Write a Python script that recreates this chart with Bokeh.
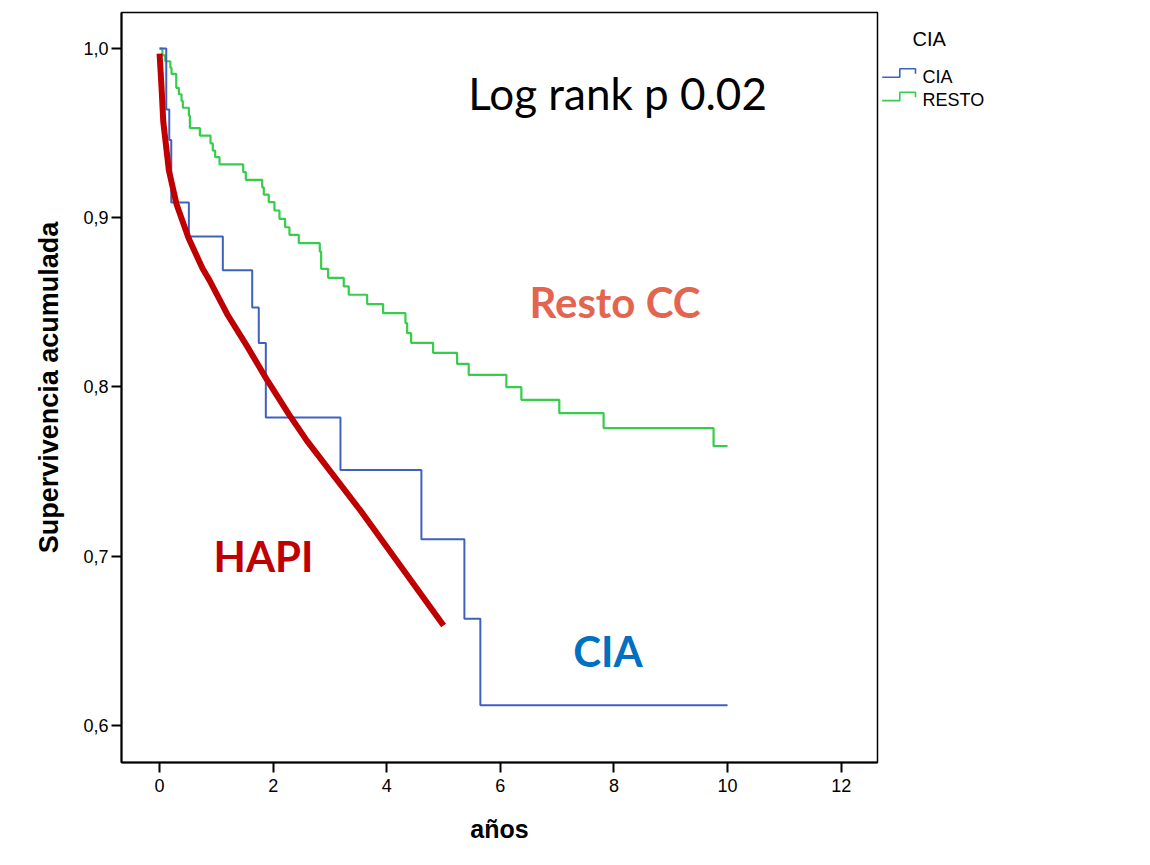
from bokeh.plotting import figure
from bokeh.layouts import row
from bokeh.models import Range1d, FixedTicker, Label
from bokeh.core.properties import value
from bokeh.embed import file_html
from bokeh.resources import INLINE

# ---------------- data ----------------
x_ticks = [0, 2, 4, 6, 8, 10, 12]
y_ticks = [0.6, 0.7, 0.8, 0.9, 1.0]
y_tick_labels = ["0,6", "0,7", "0,8", "0,9", "1,0"]

cia_time = [0.0, 0.118, 0.171, 0.206, 0.516, 1.114, 1.631, 1.747, 1.871,
            3.185, 4.610, 5.367, 5.648, 10.0]
cia_surv = [1.0, 0.964, 0.946, 0.909, 0.889, 0.869, 0.847, 0.826, 0.782,
            0.751, 0.710, 0.663, 0.612, 0.612]

resto_time = [0.0, 0.05, 0.10, 0.19, 0.211, 0.294, 0.34, 0.387, 0.41, 0.516,
              0.534, 0.71, 0.897, 0.937, 0.979, 1.056, 1.473, 1.519, 1.807,
              1.835, 1.923, 2.023, 2.111, 2.211, 2.287, 2.451, 2.821, 2.845,
              2.968, 3.243, 3.331, 3.655, 3.936, 4.329, 4.359, 4.429, 4.816,
              5.238, 5.443, 6.106, 6.370, 7.038, 7.818, 9.754, 10.0]
resto_surv = [1.0, 0.996, 0.9925, 0.9886, 0.985, 0.9768, 0.973, 0.969, 0.965,
              0.9604, 0.953, 0.9486, 0.944, 0.9397, 0.9358, 0.9315, 0.927,
              0.9224, 0.918, 0.9137, 0.9092, 0.9043, 0.8994, 0.8944, 0.8899,
              0.885, 0.880, 0.8698, 0.8645, 0.8594, 0.8545, 0.849, 0.8436,
              0.8377, 0.8318, 0.8261, 0.8202, 0.8137, 0.8072, 0.7999, 0.7924,
              0.7845, 0.7757, 0.765, 0.765]

hapi_x = [0.0, 0.035, 0.065, 0.164, 0.299, 0.510, 0.757, 0.880, 1.191,
          1.543, 1.895, 2.275, 2.599, 3.537, 5.0]
hapi_y = [0.997, 0.977, 0.957, 0.928, 0.908, 0.888, 0.870, 0.863, 0.843,
          0.824, 0.804, 0.784, 0.768, 0.727, 0.659]

legend_title = "CIA"
legend_labels = ["CIA", "RESTO"]

BLUE = "#4060C0"
GREEN = "#38CC4C"
RED = "#C00000"

# ---------------- main plot ----------------
p = figure(frame_width=756, frame_height=750,
           x_range=Range1d(-0.67, 12.64), y_range=Range1d(0.5781, 1.0213),
           output_backend="svg", toolbar_location=None,
           min_border_left=121, min_border_right=2, min_border_top=12,
           min_border_bottom=95, background_fill_color="white")
p.xgrid.visible = False
p.ygrid.visible = False
p.outline_line_color = "black"
p.outline_line_width = 1.5

p.xaxis.ticker = FixedTicker(ticks=x_ticks)
p.yaxis.ticker = FixedTicker(ticks=y_ticks)
p.yaxis.major_label_overrides = {t: l for t, l in zip(y_ticks, y_tick_labels)}

for ax in (p.xaxis[0], p.yaxis[0]):
    ax.major_tick_out = 10
    ax.major_tick_in = 0
    ax.minor_tick_out = 0
    ax.minor_tick_in = 0
    ax.major_tick_line_width = 2
    ax.major_tick_line_color = "black"
    ax.axis_line_width = 2
    ax.axis_line_color = "black"
    ax.major_label_text_font = "Liberation Sans"
    ax.major_label_text_font_size = "18px"
    ax.major_label_text_color = "black"
    ax.axis_label_text_font = "Liberation Sans"
    ax.axis_label_text_font_style = "bold"
    ax.axis_label_text_color = "black"

p.xaxis.axis_label = "años"
p.xaxis.axis_label_text_font_size = "25px"
p.xaxis.major_label_standoff = 6
p.xaxis.axis_label_standoff = 20
p.yaxis.axis_label = "Supervivencia acumulada"
p.yaxis.axis_label_text_font_size = "27px"
p.yaxis.major_label_standoff = 3
p.yaxis.axis_label_standoff = 16

p.step(resto_time, resto_surv, mode="after", line_color=GREEN, line_width=2.2)
p.step(cia_time, cia_surv, mode="after", line_color=BLUE, line_width=2)
p.line(hapi_x, hapi_y, line_color=RED, line_width=6, line_join="round")

p.add_layout(Label(x=5.437, y=0.974, text="Log rank p 0.02",
                   text_font="Lato", text_font_size="44px",
                   text_color="black", text_baseline="alphabetic"))
p.add_layout(Label(x=6.511, y=0.850, text="Resto CC",
                   text_font="Lato", text_font_size="42px",
                   text_font_style="bold", text_color="#E3654F",
                   text_baseline="alphabetic"))
p.add_layout(Label(x=0.950, y=0.700, text="HAPI",
                   text_font="Lato", text_font_size="42px",
                   text_font_style="bold", text_color=RED,
                   text_baseline="alphabetic"))
p.add_layout(Label(x=7.285, y=0.6438, text="CIA",
                   text_font="Lato", text_font_size="42px",
                   text_font_style="bold", text_color="#0070C0",
                   text_baseline="alphabetic"))

# ---------------- legend panel (outside the frame) ----------------
leg = figure(frame_width=150, frame_height=857,
             x_range=Range1d(0, 150), y_range=Range1d(857, 0),
             output_backend="svg", toolbar_location=None,
             x_axis_location=None, y_axis_location=None, min_border=0)
leg.xgrid.visible = False
leg.ygrid.visible = False
leg.outline_line_color = None

leg.text([33], [26], text=[legend_title], text_font=value("Liberation Sans"),
         text_font_size="20px", text_baseline="middle", text_color="black")
icon_x = [2.7, 20.3, 20.3, 36, 36]
icon_dy = [8.4, 8.4, 0, 0, 5]
for i, (lab, col) in enumerate(zip(legend_labels, [BLUE, GREEN])):
    top = 56.3 + 23.4 * i
    leg.line(icon_x, [top + d for d in icon_dy], line_color=col, line_width=1.6)
    leg.text([43], [top + 8], text=[lab], text_font=value("Liberation Sans"),
             text_font_size="18px", text_baseline="middle", text_color="black")

layout = row(p, leg)
open("out.html", "w").write(file_html(layout, INLINE))
